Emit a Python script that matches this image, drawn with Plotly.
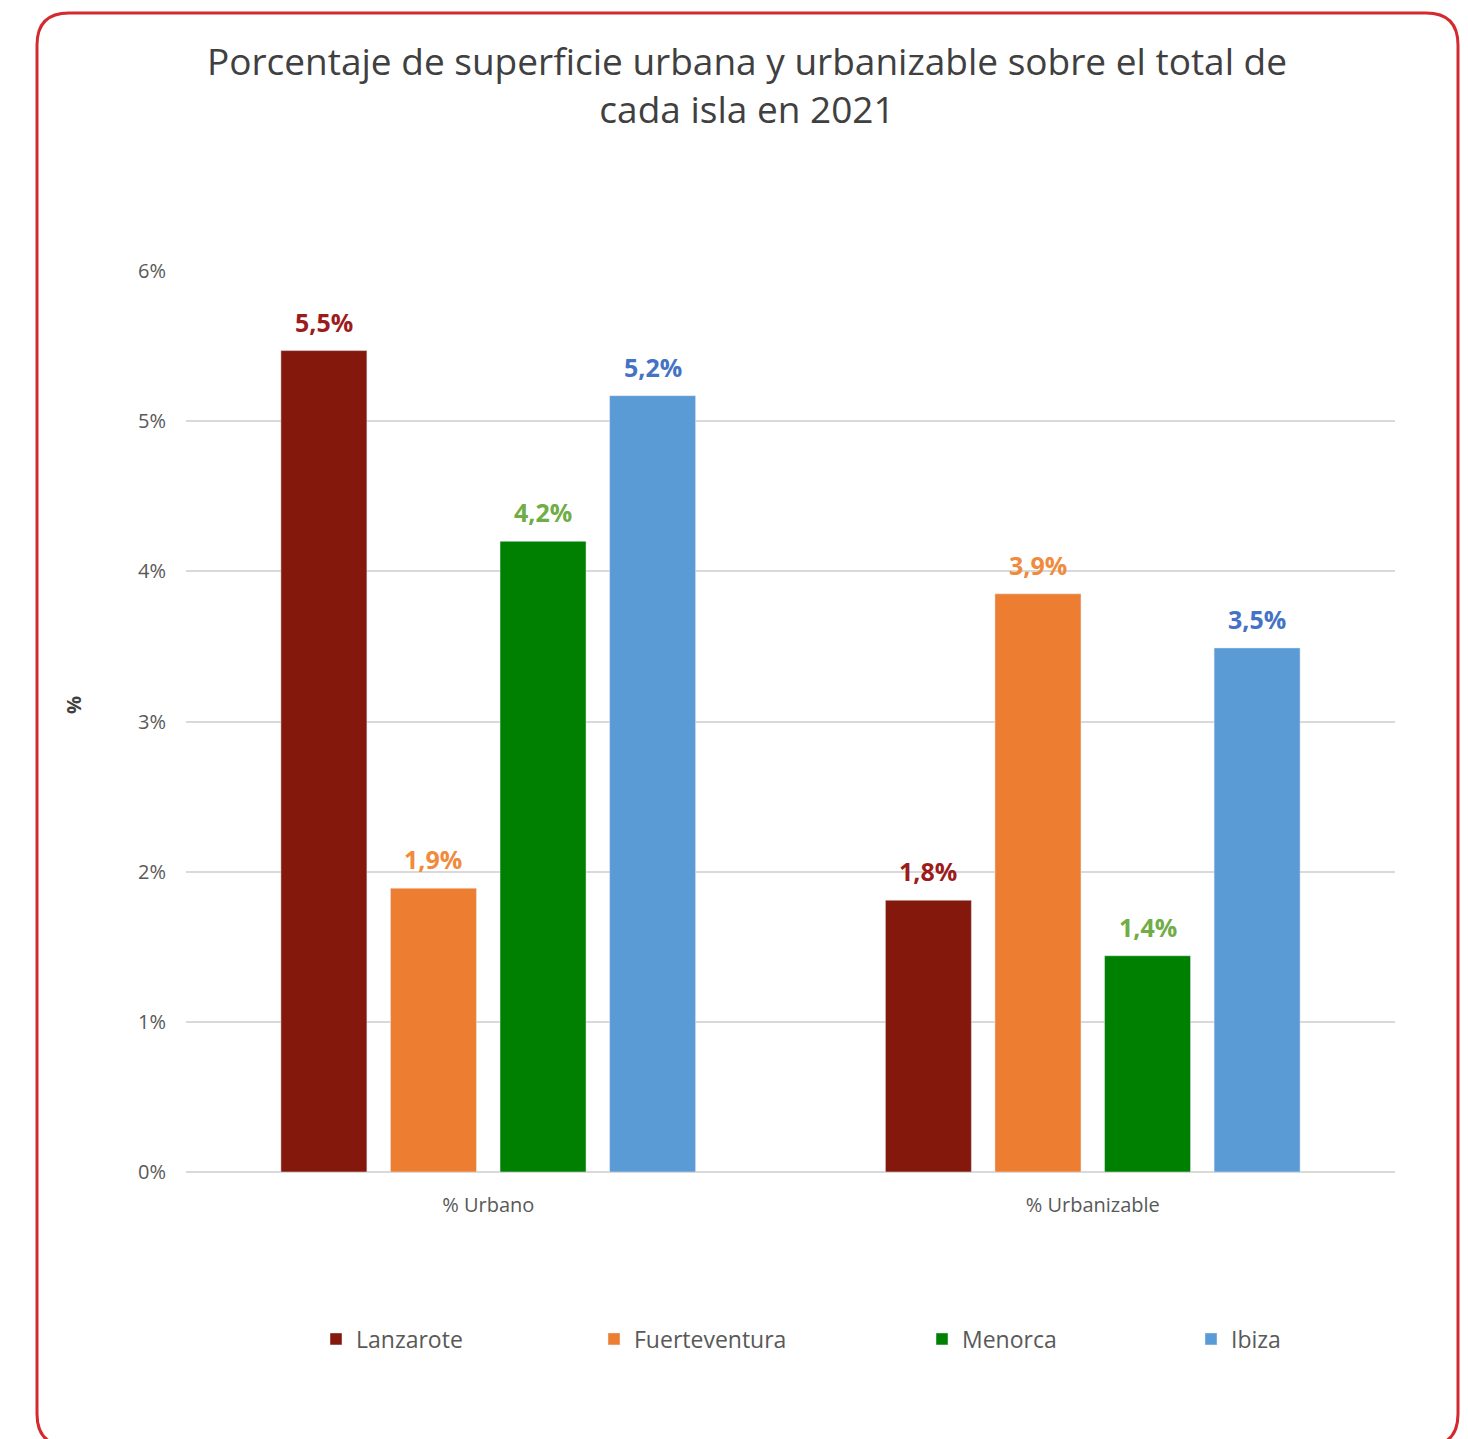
import plotly.graph_objects as go

# page has an 8px body margin, so the figure is laid out in page px - 8
W, H = 1460, 1431
L, R, T, B = 178, 73, 263, 267

categories = ["% Urbano", "% Urbanizable"]
islands = ["Lanzarote", "Fuerteventura", "Menorca", "Ibiza"]
lanzarote = [5.47, 1.81]
fuerteventura = [1.89, 3.85]
menorca = [4.20, 1.44]
ibiza = [5.17, 3.49]

bar_colors = ["#84180D", "#ED7D31", "#008000", "#5B9BD5"]
label_colors = ["#9C1C1C", "#F08A3C", "#70AD47", "#4472C4"]
legend_x_page = [330, 608, 936, 1205]  # where each legend swatch starts

BARGAP, GROUPGAP = 0.275, 0.215
pw, ph = W - L - R, H - T - B
slot = (1 - BARGAP) * (pw / len(categories)) / len(islands)


def px(x):
    return (x - 8 - L) / pw


def py(y):
    return (H - B - (y - 8)) / ph


fig = go.Figure()
annotations = []
legends = {}
for i, (name, vals, bc, lc) in enumerate(zip(islands, [lanzarote, fuerteventura, menorca, ibiza], bar_colors, label_colors)):
    lg = "legend" if i == 0 else f"legend{i + 1}"
    fig.add_trace(go.Bar(name=name, x=categories, y=vals, marker_color=bc, legend=lg))
    legends[lg] = dict(
        orientation="h",
        x=px(legend_x_page[i] - 14),
        xanchor="left",
        y=py(1339),
        yanchor="middle",
        font=dict(size=23, color="#595959"),
        itemwidth=30,
        bgcolor="rgba(0,0,0,0)",
    )
    for cat, v in zip(categories, vals):
        annotations.append(
            dict(
                x=cat,
                y=v,
                text=f"<b>{v:.1f}%</b>".replace(".", ","),
                showarrow=False,
                xshift=(i - 1.5) * slot,
                yshift=29,
                yanchor="middle",
                font=dict(size=25, color=lc, family="Open Sans"),
            )
        )

# rounded red frame (page pixel coords)
x0, y0, x1, y1, r = 37, 13, 1458, 1446, 32
path = (
    f"M {px(x0 + r)} {py(y0)} L {px(x1 - r)} {py(y0)} "
    f"Q {px(x1)} {py(y0)} {px(x1)} {py(y0 + r)} L {px(x1)} {py(y1 - r)} "
    f"Q {px(x1)} {py(y1)} {px(x1 - r)} {py(y1)} L {px(x0 + r)} {py(y1)} "
    f"Q {px(x0)} {py(y1)} {px(x0)} {py(y1 - r)} L {px(x0)} {py(y0 + r)} "
    f"Q {px(x0)} {py(y0)} {px(x0 + r)} {py(y0)} Z"
)

annotations.append(
    dict(
        text="<b>%</b>",
        x=px(75),
        y=py(705),
        xref="paper",
        yref="paper",
        xanchor="center",
        yanchor="middle",
        xshift=-2,
        showarrow=False,
        textangle=-90,
        font=dict(size=20, color="#404040"),
    )
)

fig.update_layout(
    width=W,
    height=H,
    margin=dict(l=L, r=R, t=T, b=B),
    paper_bgcolor="white",
    plot_bgcolor="white",
    font=dict(family="Open Sans", color="#595959"),
    title=dict(
        text="Porcentaje de superficie urbana y urbanizable sobre el total de<br>cada isla en 2021",
        x=(747 - 8) / W,
        xref="container",
        xanchor="center",
        y=1 - 67 / H,
        yanchor="top",
        font=dict(size=37, color="#404040", family="Open Sans"),
    ),
    barmode="group",
    bargap=BARGAP,
    bargroupgap=GROUPGAP,
    showlegend=True,
    xaxis=dict(
        showgrid=False,
        showline=False,
        ticks="",
        tickfont=dict(size=20, color="#595959"),
        ticklabelstandoff=19,
    ),
    yaxis=dict(
        range=[0, 6],
        dtick=1,
        ticksuffix="%",
        showgrid=True,
        gridcolor="#D9D9D9",
        gridwidth=2,
        zeroline=True,
        zerolinecolor="#D9D9D9",
        zerolinewidth=2,
        tickfont=dict(size=20, color="#595959"),
        ticklabelstandoff=19,
    ),
    annotations=annotations,
    shapes=[
        dict(type="path", path=path, xref="paper", yref="paper", line=dict(color="#D42A2F", width=3), layer="above")
    ],
    **legends,
)

fig.write_html("out.html")
